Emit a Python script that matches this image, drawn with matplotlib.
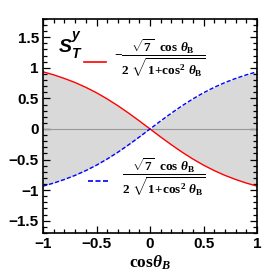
import numpy as np
import matplotlib
matplotlib.use("Agg")
import matplotlib.pyplot as plt
from matplotlib.ticker import MultipleLocator

plt.rcParams['mathtext.fontset'] = 'custom'
plt.rcParams['mathtext.rm'] = 'Liberation Serif:bold'
plt.rcParams['mathtext.it'] = 'Liberation Serif:italic:bold'
plt.rcParams['mathtext.bf'] = 'Liberation Serif:bold'

# cos(theta_B) values and the two curves
x = [-1.0, -0.9, -0.8, -0.7, -0.6, -0.5, -0.4, -0.3, -0.2, -0.1, 0.0,
     0.1, 0.2, 0.3, 0.4, 0.5, 0.6, 0.7, 0.8, 0.9, 1.0]
red = [0.935, 0.885, 0.826, 0.759, 0.681, 0.592, 0.491, 0.380, 0.259, 0.132, 0.0,
       -0.132, -0.259, -0.380, -0.491, -0.592, -0.681, -0.759, -0.826, -0.885, -0.935]
blue = [-v for v in red]

xticks = [-1, -0.5, 0, 0.5, 1]
xlabels = ['\u22121', '\u22120.5', '0', '0.5', '1']
yticks = [-1.5, -1, -0.5, 0, 0.5, 1, 1.5]
ylabels = ['\u22121.5', '\u22121', '\u22120.5', '0', '0.5', '1', '1.5']

fig = plt.figure(figsize=(2.74, 2.74), dpi=100)
ax = fig.add_axes([0.157, 0.150, 0.781, 0.781])

ax.fill_between(x, red, blue, color='#d9d9d9', lw=0)
ax.axhline(0, color='#999999', lw=0.8)
ax.plot(x, red, color='red', lw=1.0)
ax.plot(x, blue, color='blue', lw=1.0, ls=(0, (3, 1.5)))

ax.set_xlim(-1, 1)
ax.set_ylim(-1.7, 1.8)
ax.xaxis.set_minor_locator(MultipleLocator(0.1))
ax.yaxis.set_minor_locator(MultipleLocator(0.1))
ax.set_xticks(xticks)
ax.set_xticklabels(xlabels)
ax.set_yticks(yticks)
ax.set_yticklabels(ylabels)
ax.tick_params(which='both', direction='in', top=True, right=True, width=0.9)
ax.tick_params(which='major', length=5, pad=3)
ax.tick_params(which='minor', length=3)
for lab in ax.get_xticklabels() + ax.get_yticklabels():
    lab.set_fontfamily('Liberation Sans')
    lab.set_fontweight('bold')
    lab.set_fontsize(11)
for s in ax.spines.values():
    s.set_linewidth(1.2)

ax.set_xlabel(r'$\mathbf{cos}\theta_B$', fontsize=12.5, labelpad=2)

# S_T^y label, built from pieces so it stays bold italic sans
ax.text(0.075, 0.845, 'S', transform=ax.transAxes, fontsize=14,
        family='Liberation Sans', style='italic', weight='bold')
ax.text(0.135, 0.905, 'y', transform=ax.transAxes, fontsize=10,
        family='Liberation Sans', style='italic', weight='bold')
ax.text(0.13, 0.815, 'T', transform=ax.transAxes, fontsize=10,
        family='Liberation Sans', style='italic', weight='bold')

frac = r'\dfrac{\sqrt{7}\ \ \mathrm{cos}\ \theta_\mathrm{B}}{2\ \sqrt{1\!+\!\mathrm{cos}^2\ \theta_\mathrm{B}}}'

# legend entries
ax.plot([0.19, 0.295], [0.80, 0.80], color='red', lw=1.2, transform=ax.transAxes)
ax.text(0.33, 0.815, '$-' + frac + '$',
        transform=ax.transAxes, fontsize=9.5, va='center')
ax.plot([0.21, 0.315], [0.243, 0.243], color='blue', lw=1.2, ls=(0, (3, 1.5)),
        transform=ax.transAxes)
ax.text(0.37, 0.258, '$' + frac + '$',
        transform=ax.transAxes, fontsize=9.5, va='center')

fig.savefig('out.png', dpi=100)
